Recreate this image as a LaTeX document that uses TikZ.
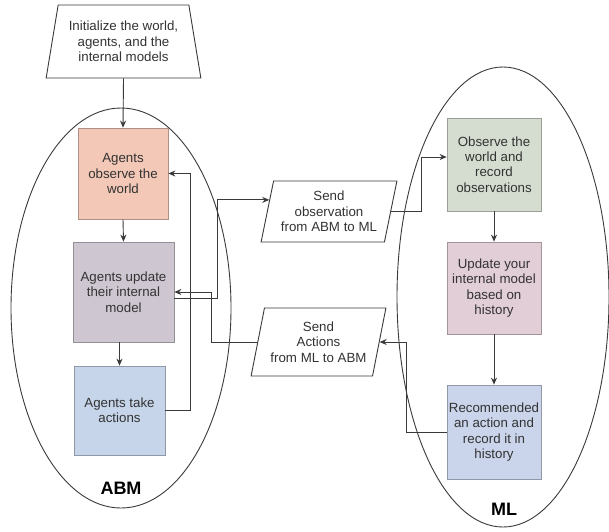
\documentclass[tikz,border=0pt]{standalone}
\usepackage{fontspec}
\setmainfont{Liberation Sans}
\usetikzlibrary{shapes.geometric,arrows.meta}
\definecolor{lnclr}{HTML}{3A3A3A}
\definecolor{txtclr}{HTML}{333333}
\definecolor{obsfill}{HTML}{F3C8B7}
\definecolor{updfill}{HTML}{CEC6D0}
\definecolor{actfill}{HTML}{C6D5EA}
\definecolor{mlobsfill}{HTML}{D5DDD0}
\definecolor{mlupdfill}{HTML}{E2CED6}
\definecolor{mlactfill}{HTML}{CAD4EA}
\begin{document}
\begin{tikzpicture}[x=1pt,y=-1pt,
  lbl/.style={font=\fontsize{13.3}{15.3}\selectfont, text=txtclr, align=center},
  stagebox/.style={lbl, draw=#1!72!black, fill=#1, line width=0.7pt, inner sep=0pt},
  io/.style={lbl, draw=lnclr, fill=white, line width=0.9pt, trapezium, trapezium stretches=true, inner sep=0pt},
  flow/.style={draw=lnclr, line width=0.9pt, -{Stealth[length=7pt,width=6pt]}},
  region/.style={draw=lnclr, line width=0.9pt},
  regionlabel/.style={font=\fontsize{18}{20}\selectfont\bfseries, text=black}
]
\useasboundingbox (0,0) rectangle (609,531);
\fill[white] (0,0) rectangle (609,531);

% the two sub-systems
\draw[region] (121,308) ellipse [x radius=110, y radius=200];
\draw[region] (503,297) ellipse [x radius=106, y radius=230];
\node[regionlabel] (abm) at (121,488) {ABM};
\node[regionlabel] (ml) at (504,509) {ML};

% initialisation
\node[io, trapezium left angle=76, trapezium right angle=76,
      minimum width=155pt, minimum height=73pt] (init) at (123.5,41.5)
      {Initialize the world,\\agents, and the\\internal models};

% ABM stages
\node[stagebox=obsfill, minimum width=90pt, minimum height=91pt] (aobs) at (123,173.5)
      {Agents\\observe the\\world};
\node[stagebox=updfill, minimum width=101pt, minimum height=100pt] (aupd) at (123.5,292)
      {Agents update\\their internal\\model};
\node[stagebox=actfill, minimum width=91pt, minimum height=89pt] (aact) at (119.5,410.5)
      {Agents take\\actions};

% exchange between the two sides
\node[io, trapezium left angle=75, trapezium right angle=105,
      minimum width=136pt, minimum height=61pt] (sendobs) at (329,211.5)
      {Send\\observation\\from ABM to ML};
\node[io, trapezium left angle=73.6, trapezium right angle=106.4,
      minimum width=135pt, minimum height=68pt] (sendact) at (318.5,342)
      {Send\\Actions\\from ML to ABM};

% ML stages
\node[stagebox=mlobsfill, minimum width=94pt, minimum height=93pt] (mobs) at (494,164.5)
      {Observe the\\world and\\record\\observations};
\node[stagebox=mlupdfill, minimum width=94pt, minimum height=92pt] (mupd) at (494,288)
      {Update your\\internal model\\based on\\history};
\node[stagebox=mlactfill, minimum width=94pt, minimum height=94pt] (mact) at (494,432)
      {Recommended\\an action and\\record it in\\history};

% routing columns for the elbow connectors
\coordinate (colA) at (217,0);
\coordinate (colB) at (421,0);
\coordinate (colC) at (406,0);
\coordinate (colD) at (211,0);
\coordinate (colE) at (190,0);

% connectors
\draw[flow] (init.south) -- (aobs.north);
\draw[flow] (aobs.south) -- (aupd.north);
\draw[flow] (aact.north |- aupd.south) -- (aact.north);
\draw[flow] (aact.east) -- (colE |- aact.east) |- (aobs.east);
\draw[flow] ([yshift=-6pt]aupd.east) -| (colA |- sendobs.169) -- (sendobs.169);
\draw[flow] (sendobs.east) -- (colB |- sendobs.east) |- ([yshift=7.5pt]mobs.west);
\draw[flow] (mobs.south) -- (mupd.north);
\draw[flow] (mupd.south) -- (mact.north);
\draw[flow] (mact.west) -- (colC |- mact.west) |- (sendact.east);
\draw[flow] (sendact.west) -- (colD |- sendact.west) |- (aupd.east);
\end{tikzpicture}
\end{document}
